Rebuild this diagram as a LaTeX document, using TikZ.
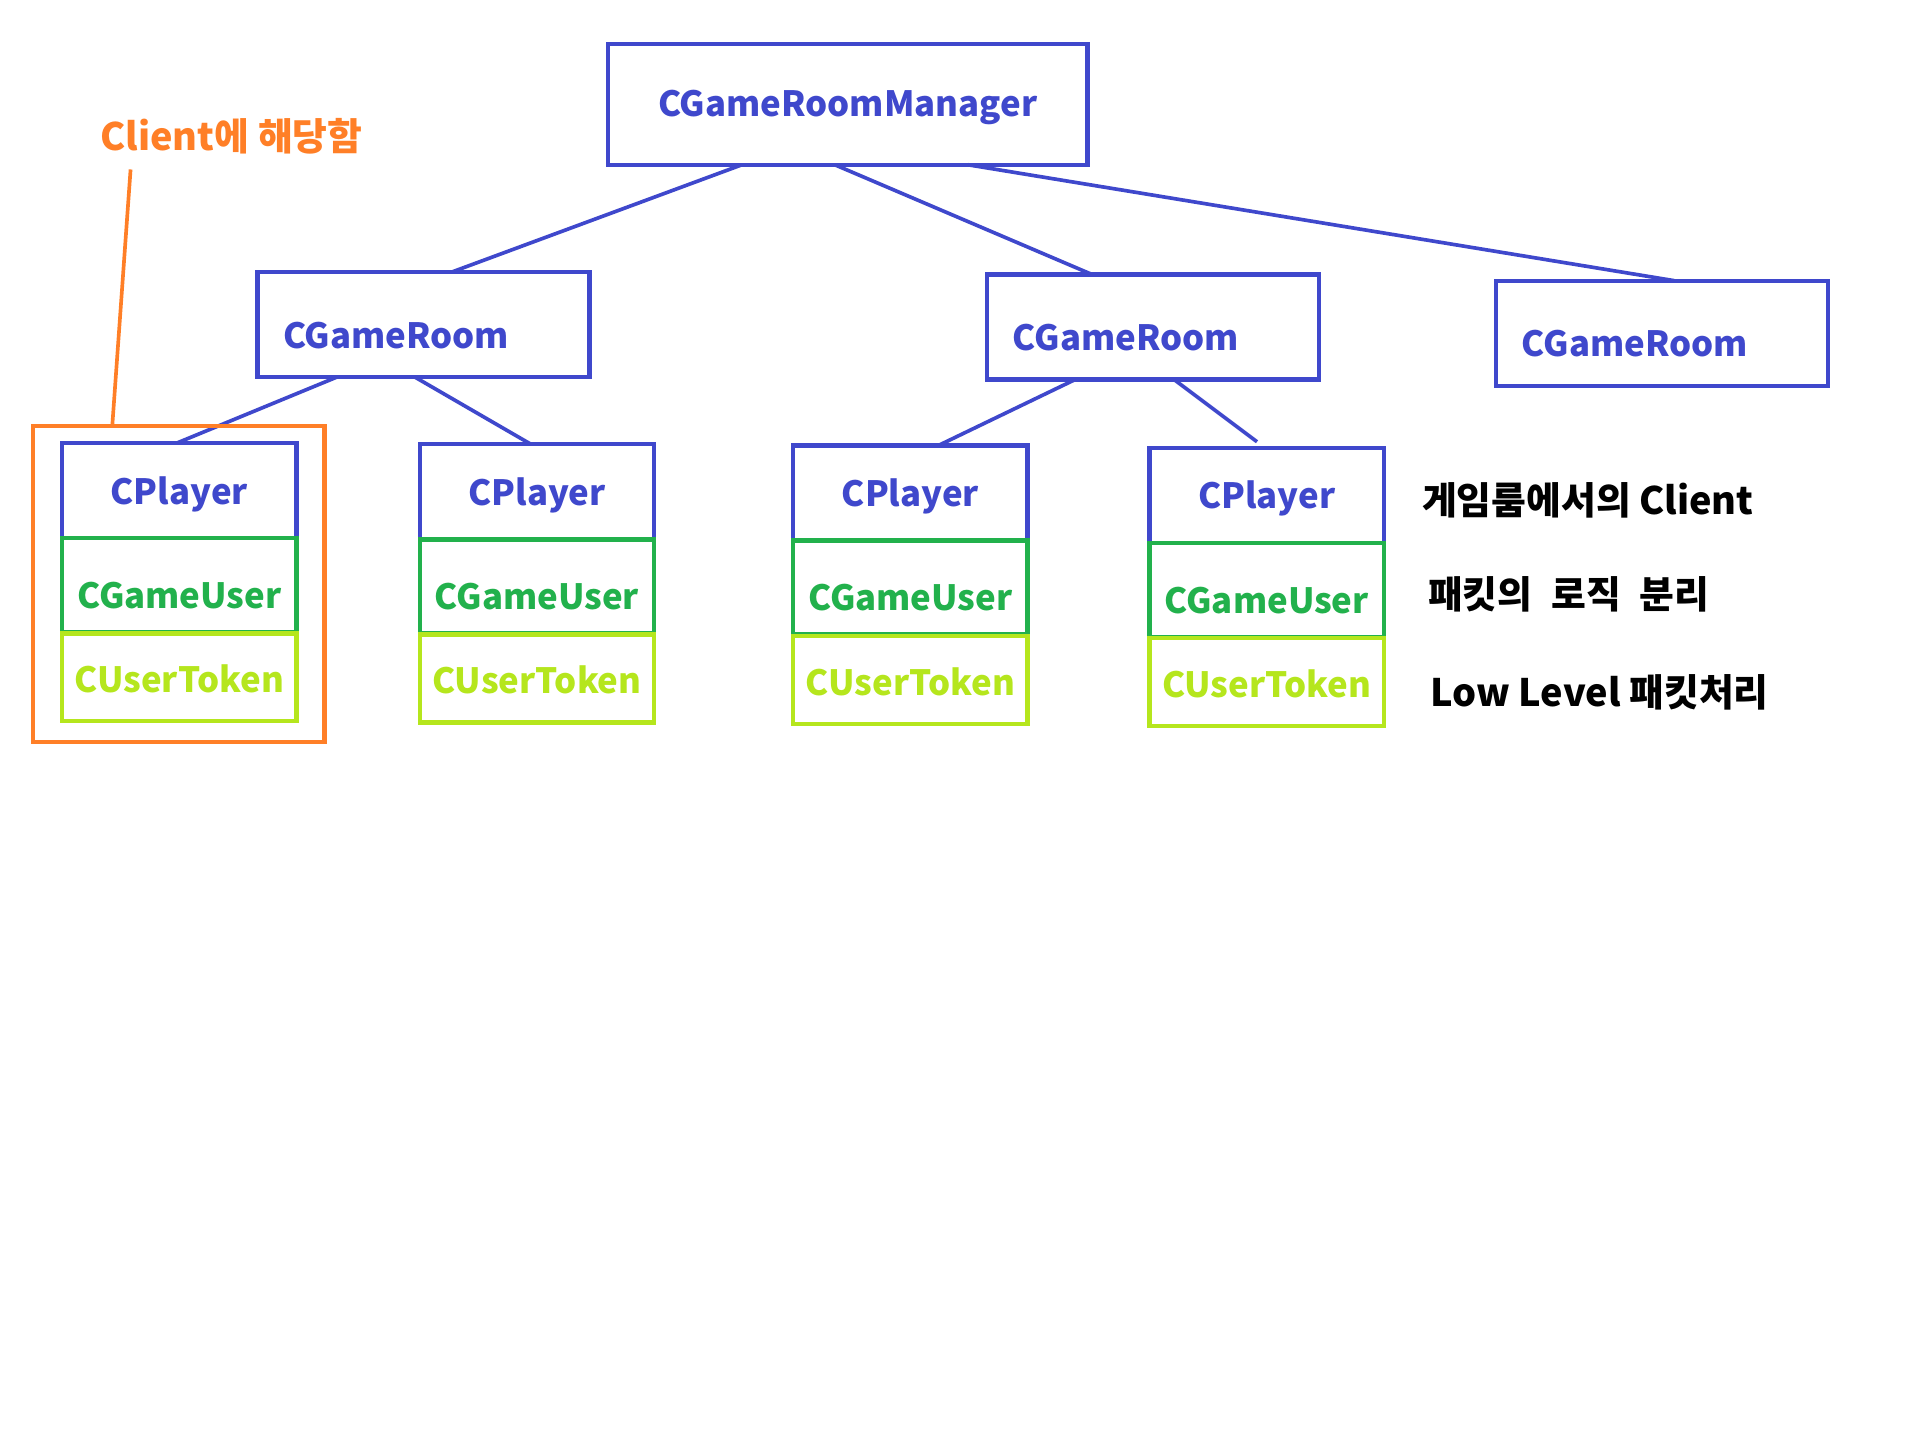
\documentclass[tikz,border=0pt]{standalone}
\usepackage{fontspec}
\setmainfont{Noto Sans CJK KR}
\usetikzlibrary{positioning}

\definecolor{indigo}{RGB}{63,72,204}
\definecolor{paintgreen}{RGB}{34,177,76}
\definecolor{paintlime}{RGB}{181,230,29}
\definecolor{paintorange}{RGB}{255,127,39}

\tikzset{
    classbox/.style={draw, line width=3.5pt, anchor=north west, inner sep=0pt, outer sep=0pt,
        text depth=6pt, font=\fontsize{28.5}{34}\selectfont\bfseries},
    roombox/.style={classbox, draw=indigo, text=indigo, minimum width=272pt, minimum height=86pt,
        text width=230pt, align=left, text height=45pt},
    playerbox/.style={classbox, draw=indigo, text=indigo, minimum width=192pt, minimum height=78pt,
        text height=28pt},
    userbox/.style={classbox, draw=paintgreen, text=paintgreen, minimum width=192pt, minimum height=77pt,
        text height=44pt},
    tokenbox/.style={classbox, draw=paintlime, text=paintlime, minimum width=192pt, minimum height=72pt,
        text height=31pt},
    link/.style={draw=indigo, line width=3pt},
    note/.style={anchor=west, inner sep=0pt, font=\fontsize{31}{37}\selectfont\bfseries}
}

\begin{document}
\begin{tikzpicture}[x=1pt, y=-1pt]
    \useasboundingbox[fill=white] (0,0) rectangle (1570,1188);

    \node[classbox, draw=indigo, text=indigo, minimum width=393pt, minimum height=99pt, text height=26pt] (mgr) at (498,36) {CGameRoomManager};

    \node[roombox] (room1) at (211,223) {CGameRoom};
    \node[roombox] (room2) at (809,225) {CGameRoom};
    \node[roombox] (room3) at (1226,230) {CGameRoom};

    \foreach \c/\x/\y in {1/51/363, 2/344/364, 3/650/365, 4/942/367} {
        \node[playerbox] (player\c) at (\x,\y) {CPlayer};
        \node[userbox] (user\c) at (player\c.south west) {CGameUser};
        \node[tokenbox] (token\c) at ([yshift=-1pt]user\c.south west) {CUserToken};
    }

    \draw[link] ([xshift=110pt]mgr.south west) -- ([xshift=159pt]room1.north west);
    \draw[link] ([xshift=186pt]mgr.south west) -- ([xshift=86pt]room2.north west);
    \draw[link] ([xshift=295pt]mgr.south west) -- ([xshift=146pt]room3.north west);

    \draw[link] ([xshift=65pt]room1.south west) -- ([xshift=94pt]player1.north west);
    \draw[link] ([xshift=129pt]room1.south west) -- ([xshift=91pt]player2.north west);
    \draw[link] ([xshift=72pt]room2.south west) -- ([xshift=119pt]player3.north west);
    \draw[link] ([xshift=153pt]room2.south west) -- ([xshift=88pt,yshift=5pt]player4.north west);

    % client range
    \node[draw=paintorange, line width=3.5pt, anchor=north west, outer sep=0pt, minimum width=239pt, minimum height=259pt] (clientbox) at (27,349) {};
    \node[note, text=paintorange] (clientnote) at (82,112) {Client에 해당함};
    \draw[draw=paintorange, line width=3pt] ([xshift=25pt,yshift=-12pt]clientnote.south west) -- ([xshift=65pt]clientbox.north west);

    \node[note] (noteplayer) at (1165,410) {게임룸에서의 Client};
    \node[note] (noteuser) at (1170,487) {패킷의\hspace{0.5em}로직\hspace{0.5em}분리};
    \node[note] (notetoken) at (1172,567) {Low Level 패킷처리};
\end{tikzpicture}
\end{document}
